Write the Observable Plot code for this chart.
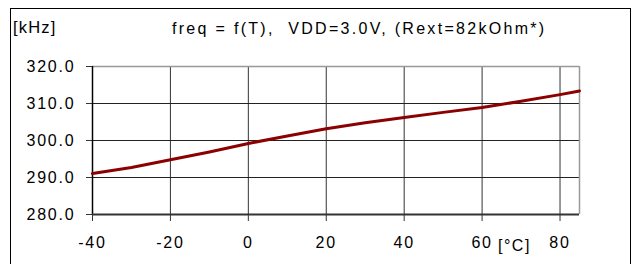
<!DOCTYPE html>
<html>
<head>
<meta charset="utf-8">
<script src="https://cdn.jsdelivr.net/npm/d3@7"></script>
<script src="https://cdn.jsdelivr.net/npm/@observablehq/plot@0.6"></script>
<style>
  html, body { margin: 0; padding: 0; background: #fff; }
  #wrap { position: relative; width: 637px; height: 264px; overflow: hidden; font-family: "Liberation Sans", Arial, sans-serif; color: #000; }
  #border { position: absolute; left: 10px; top: 8px; width: 621px; height: 270px; border: 1px solid #000; box-sizing: border-box; pointer-events: none; }
  .lbl { position: absolute; font-size: 16px; white-space: nowrap; line-height: 1; }
  #chart svg text { letter-spacing: 1.8px; }
</style>
</head>
<body>
<div id="wrap">
  <div id="chart"></div>
  <div id="border"></div>
  <div class="lbl" id="unitY" style="left:13px; top:19px; font-size:16.5px; letter-spacing:1.2px;">[kHz]</div>
  <div class="lbl" id="title" style="left:172px; top:20.5px; letter-spacing:2.3px;">freq = f(T),&nbsp;&nbsp;VDD=3.0V,&nbsp;(Rext=82kOhm*)</div>
  <div class="lbl" id="unitX" style="left:498px; top:238px; letter-spacing:1.5px;">[°C]</div>
</div>
<script>
const temps = [-40, -30, -20, -10, 0, 10, 20, 30, 40, 50, 60, 70, 80, 85];
const freqs = [291.1, 292.7, 294.8, 296.9, 299.2, 301.2, 303.2, 304.8, 306.2, 307.6, 308.9, 310.6, 312.4, 313.4];
const xTicks = [-40, -20, 0, 20, 40, 60, 80];
const yTicks = [280, 290, 300, 310, 320];
const xDomain = [-40, 85];
const yDomain = [280, 320];

const data = temps.map((t, i) => ({t, f: freqs[i]}));

const chart = Plot.plot({
  width: 637,
  height: 264,
  marginLeft: 92,
  marginRight: 58,
  marginTop: 66,
  marginBottom: 50,
  style: { fontFamily: '"Liberation Sans", Arial, sans-serif', fontSize: "16px", background: "transparent", color: "#000" },
  x: { domain: xDomain, ticks: xTicks },
  y: { domain: yDomain, ticks: yTicks },
  marks: [
    Plot.gridX(xTicks.filter(d => d > -40), { stroke: "#333", strokeOpacity: 1, strokeWidth: 1 }),
    Plot.gridY(yTicks.filter(d => d > 280 && d < 320), { stroke: "#222", strokeOpacity: 1, strokeWidth: 1 }),
    Plot.ruleY([320], { stroke: "#999", strokeWidth: 1.5 }),
    Plot.ruleX([85], { stroke: "#999", strokeWidth: 1.5 }),
    Plot.ruleX([-40], { stroke: "#000", strokeWidth: 1.5 }),
    Plot.ruleY([280], { stroke: "#333", strokeWidth: 2 }),
    Plot.axisY(yTicks, { tickSize: 6, tickPadding: 11, tickFormat: d => d.toFixed(1), label: null, fontSize: 16, stroke: "#333" }),
    Plot.axisX(xTicks, { tickSize: 7, tickPadding: 15, tickFormat: d => String(d), label: null, fontSize: 16, stroke: "#333" }),
    Plot.line(data, { x: "t", y: "f", stroke: "#8b0000", strokeWidth: 3 })
  ]
});
document.getElementById("chart").appendChild(chart);
</script>
</body>
</html>
